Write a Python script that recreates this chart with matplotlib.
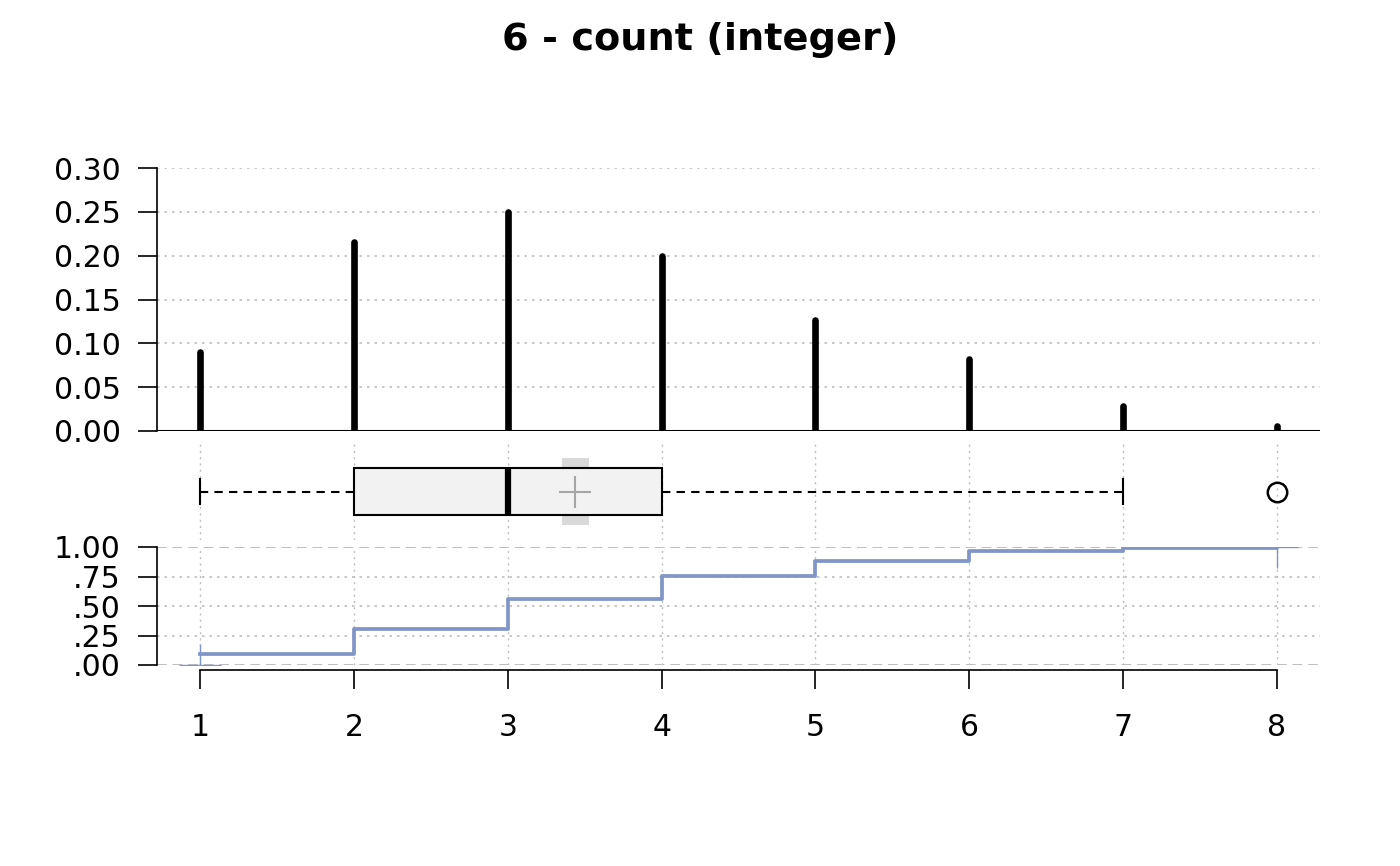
import numpy as np
import matplotlib
matplotlib.use("Agg")
import matplotlib.pyplot as plt
from matplotlib.patches import Rectangle

# data
values = np.array([1, 2, 3, 4, 5, 6, 7, 8])
probs = np.array([0.090, 0.216, 0.250, 0.200, 0.127, 0.082, 0.029, 0.006])
box_q1, box_med, box_q3 = 2, 3, 4
whisk_lo, whisk_hi = 1, 7
outliers = [8]
mean_val = 3.44
mean_ci = 0.09
title = "6 - count (integer)"
prob_ticks = [0.00, 0.05, 0.10, 0.15, 0.20, 0.25, 0.30]
ecdf_ticks = [0.0, 0.25, 0.5, 0.75, 1.0]
ecdf_labels = [".00", ".25", ".50", ".75", "1.00"]

W, H = 1400, 866
fig = plt.figure(figsize=(W / 100, H / 100), dpi=100)
plt.rcParams["font.family"] = ["DejaVu Sans"]

def box(x0, y0, x1, y1):
    # pixel box -> figure fraction
    return [x0 / W, (H - y1) / H, (x1 - x0) / W, (y1 - y0) / H]

xlim = (0.72, 8.28)
fs = 21.5
grid_c = "#BEBEBE"

# --- top: probability spikes
ax1 = fig.add_axes(box(157, 168, 1320, 431))
ax1.set_xlim(*xlim)
ax1.set_ylim(0, 0.30)
ax1.vlines(values, 0, probs, colors="black", lw=4.8, capstyle="round", zorder=3)
ax1.axhline(0, color="black", lw=1.5, zorder=2)
for t in prob_ticks[1:]:
    ax1.axhline(t, color=grid_c, lw=1.2, ls=(0, (1.5, 3)), zorder=1)
for s in ["top", "right", "bottom"]:
    ax1.spines[s].set_visible(False)
ax1.spines["left"].set_linewidth(1.2)
ax1.set_yticks(prob_ticks)
ax1.set_yticklabels([f"{t:.2f}" for t in prob_ticks])
ax1.tick_params(axis="y", length=14, width=1.2, pad=12, labelsize=fs)
ax1.set_xticks([])

# --- middle: box plot
ax2 = fig.add_axes(box(157, 443, 1320, 540))
ax2.set_xlim(*xlim)
ax2.set_ylim(-1, 1)
ax2.axis("off")
for v in values:
    ax2.axvline(v, color=grid_c, lw=1.0, ls=(0, (1.5, 3)), zorder=0)
ax2.add_patch(Rectangle((mean_val - mean_ci, -0.70), 2 * mean_ci, 1.40,
                        facecolor="#D9D9D9", edgecolor="none", zorder=1))
stats = [dict(med=box_med, q1=box_q1, q3=box_q3, whislo=whisk_lo,
              whishi=whisk_hi, fliers=outliers, mean=mean_val)]
ax2.bxp(stats, positions=[0], widths=0.97, capwidths=0.5,
        orientation="horizontal", patch_artist=True, showmeans=False,
        boxprops=dict(facecolor="#F2F2F2", edgecolor="black", lw=1.5),
        medianprops=dict(color="black", lw=4.5, solid_capstyle="butt"),
        whiskerprops=dict(color="black", lw=1.5, ls=(0, (4, 3))),
        capprops=dict(color="black", lw=1.5),
        flierprops=dict(marker="o", markerfacecolor="none",
                        markeredgecolor="black", markersize=14,
                        markeredgewidth=1.8),
        zorder=2)
ax2.plot([mean_val], [0], marker="+", color="#A6A6A6", markersize=23,
         markeredgewidth=1.5, zorder=4)

# --- bottom: ECDF
ax3 = fig.add_axes(box(157, 547, 1320, 665))
ax3.set_xlim(*xlim)
ax3.set_ylim(0, 1)
cum = np.cumsum(probs)
cum[-1] = 1.0
for v in values:
    ax3.axvline(v, color=grid_c, lw=1.0, ls=(0, (1.5, 3)), zorder=0)
for t in [0.25, 0.5, 0.75]:
    ax3.axhline(t, color=grid_c, lw=1.2, ls=(0, (1.5, 3)), zorder=0)
for t in [0.0, 1.0]:
    ax3.axhline(t, color=grid_c, lw=1.4, ls=(0, (5, 3)), zorder=0)
ecdf_c = "#8096C8"
ax3.step(values, cum, where="post", color=ecdf_c, lw=2.7, zorder=3)
ax3.plot([values[0], values[-1]], [0, 1], ls="none", marker="+",
         color=ecdf_c, markersize=30, markeredgewidth=1.0, zorder=3)
for s in ["top", "right"]:
    ax3.spines[s].set_visible(False)
ax3.spines["left"].set_linewidth(1.2)
ax3.spines["bottom"].set_linewidth(1.2)
ax3.spines["bottom"].set_position(("outward", 3.5))
ax3.spines["bottom"].set_bounds(values[0], values[-1])
ax3.set_yticks(ecdf_ticks)
ax3.set_yticklabels(ecdf_labels)
ax3.set_xticks(values)
ax3.set_xticklabels([str(v) for v in values])
ax3.tick_params(axis="y", length=14, width=1.2, pad=12, labelsize=fs)
ax3.tick_params(axis="x", length=14, width=1.2, pad=17, labelsize=fs)

fig.text(700 / W, 1 - 40 / H, title, ha="center", va="center",
         fontsize=27.5, fontweight="bold")

fig.savefig("out.png", dpi=100)
